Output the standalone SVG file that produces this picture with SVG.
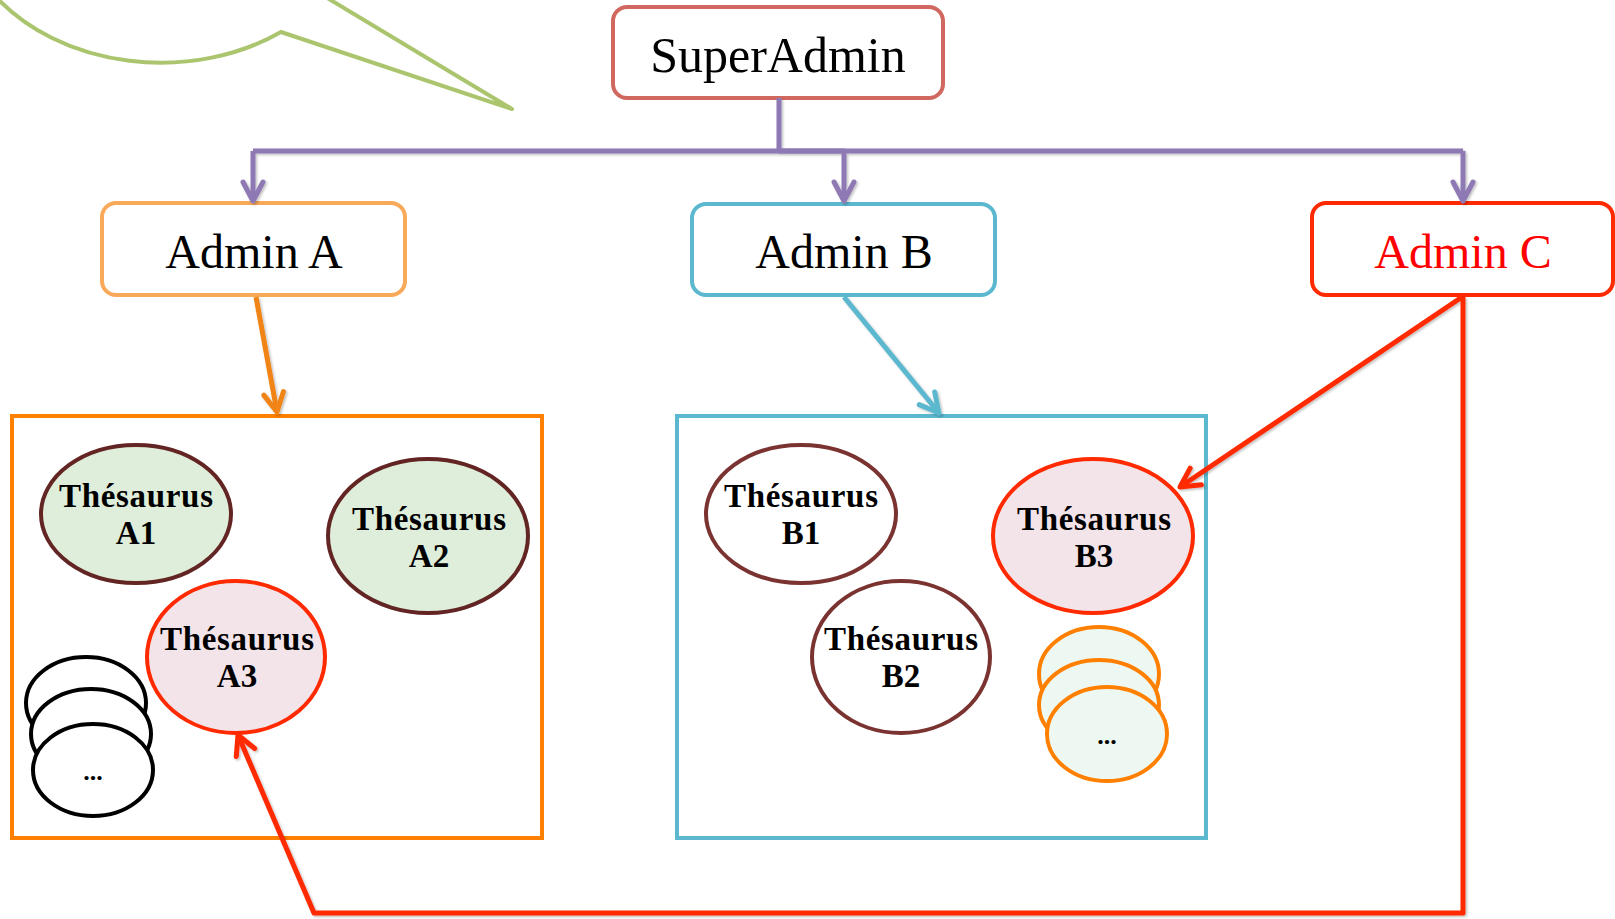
<svg xmlns="http://www.w3.org/2000/svg" width="1615" height="919" viewBox="0 0 1615 919">
<defs>
<style>
.box{fill:#ffffff;stroke-width:4}
.t{font-family:"Liberation Serif","Times New Roman",serif;font-size:48px;text-anchor:middle;fill:#000}
.th{font-family:"Liberation Serif","Times New Roman",serif;font-size:33px;font-weight:bold;text-anchor:middle;fill:#000}
.dots{font-family:"Liberation Serif","Times New Roman",serif;font-size:26px;font-weight:bold;text-anchor:middle;fill:#000}
.c{fill:none;stroke-width:5;stroke-linejoin:round}
.el{stroke-width:4}
.cont{fill:none;stroke-width:4}
</style>
<filter id="sh" x="-5%" y="-5%" width="110%" height="110%">
<feDropShadow dx="1.5" dy="1.5" stdDeviation="1" flood-color="#000" flood-opacity="0.25"/>
</filter>
<marker id="mP" viewBox="-24 -14 28 28" refX="0" refY="0" markerWidth="28" markerHeight="28" markerUnits="userSpaceOnUse" orient="auto"><path d="M -19 -10 L 0 0 L -19 10" fill="none" stroke="#8E79B5" stroke-width="5" stroke-linecap="round" stroke-linejoin="round"/></marker>
<marker id="mO" viewBox="-24 -14 28 28" refX="0" refY="0" markerWidth="28" markerHeight="28" markerUnits="userSpaceOnUse" orient="auto"><path d="M -19 -10 L 0 0 L -19 10" fill="none" stroke="#F08413" stroke-width="5" stroke-linecap="round" stroke-linejoin="round"/></marker>
<marker id="mB" viewBox="-24 -14 28 28" refX="0" refY="0" markerWidth="28" markerHeight="28" markerUnits="userSpaceOnUse" orient="auto"><path d="M -19 -10 L 0 0 L -19 10" fill="none" stroke="#5BB8CF" stroke-width="5" stroke-linecap="round" stroke-linejoin="round"/></marker>
<marker id="mR" viewBox="-24 -14 28 28" refX="0" refY="0" markerWidth="28" markerHeight="28" markerUnits="userSpaceOnUse" orient="auto"><path d="M -19 -10 L 0 0 L -19 10" fill="none" stroke="#FF2A00" stroke-width="5" stroke-linecap="round" stroke-linejoin="round"/></marker>
</defs>
<rect x="0" y="0" width="1615" height="919" fill="#ffffff"/>

<g id="callout">
<path d="M -4 -3 A 205 162 0 0 0 281 32 L 512 109 L 324 -4" fill="none" stroke="#ABC56E" stroke-width="4" stroke-linejoin="round"/>
</g>

<g id="superadmin">
<rect class="box" x="613" y="7" width="330" height="91" rx="14" stroke="#D0685F"/>
<text class="t" x="778" y="72" style="font-size:50px">SuperAdmin</text>
</g>
<g id="adminA">
<rect class="box" x="102" y="203" width="303" height="92" rx="14" stroke="#F9A95A"/>
<text class="t" x="254" y="268">Admin A</text>
</g>
<g id="adminB">
<rect class="box" x="692" y="204" width="303" height="91" rx="14" stroke="#5BB8CF"/>
<text class="t" x="844" y="268">Admin B</text>
</g>
<g id="adminC">
<rect class="box" x="1312" y="203" width="301" height="92" rx="14" stroke="#FF2A00"/>
<text class="t" x="1463" y="268" style="fill:#FF0000">Admin C</text>
</g>

<g id="containerA">
<rect class="cont" x="12" y="416" width="530" height="422" stroke="#FF8000"/>
</g>
<g id="containerB">
<rect class="cont" x="677" y="416" width="529" height="422" stroke="#5BB8CF"/>
</g>

<g id="thesA1">
<ellipse class="el" cx="136" cy="514" rx="95" ry="69" fill="#DEEEDA" stroke="#632523"/>
<text class="th" x="136" y="507" textLength="154">Thésaurus</text>
<text class="th" x="136" y="544">A1</text>
</g>
<g id="thesA2">
<ellipse class="el" cx="428" cy="536" rx="100" ry="77" fill="#DEEEDA" stroke="#632523"/>
<text class="th" x="429" y="530" textLength="154">Thésaurus</text>
<text class="th" x="429" y="567">A2</text>
</g>
<g id="thesA3">
<ellipse class="el" cx="236" cy="657" rx="89" ry="76" fill="#F2E4E9" stroke="#FF2A00"/>
<text class="th" x="237" y="650" textLength="154">Thésaurus</text>
<text class="th" x="237" y="687">A3</text>
</g>
<g id="moreA">
<ellipse class="el" cx="86" cy="703" rx="60" ry="46" fill="#ffffff" stroke="#000"/>
<ellipse class="el" cx="91" cy="734" rx="60" ry="45" fill="#ffffff" stroke="#000"/>
<ellipse class="el" cx="93" cy="770" rx="60" ry="46" fill="#ffffff" stroke="#000"/>
<text class="dots" x="93" y="780">...</text>
</g>

<g id="thesB1">
<ellipse class="el" cx="801" cy="514" rx="95" ry="69" fill="#ffffff" stroke="#7A3330"/>
<text class="th" x="801" y="507" textLength="154">Thésaurus</text>
<text class="th" x="801" y="544">B1</text>
</g>
<g id="thesB2">
<ellipse class="el" cx="901" cy="657" rx="89" ry="76" fill="#ffffff" stroke="#7A3330"/>
<text class="th" x="901" y="650" textLength="154">Thésaurus</text>
<text class="th" x="901" y="687">B2</text>
</g>
<g id="thesB3">
<ellipse class="el" cx="1093" cy="536" rx="100" ry="77" fill="#F2E4E9" stroke="#FF2A00"/>
<text class="th" x="1094" y="530" textLength="154">Thésaurus</text>
<text class="th" x="1094" y="567">B3</text>
</g>
<g id="moreB">
<ellipse class="el" cx="1099" cy="674" rx="60" ry="47" fill="#EEF8F2" stroke="#FF8000"/>
<ellipse class="el" cx="1099" cy="705" rx="60" ry="45" fill="#EEF8F2" stroke="#FF8000"/>
<ellipse class="el" cx="1107" cy="734" rx="60" ry="47" fill="#EEF8F2" stroke="#FF8000"/>
<text class="dots" x="1107" y="744">...</text>
</g>

<g id="connectors" filter="url(#sh)">
<path class="c" d="M 253 151 H 1463" stroke="#8E79B5"/>
<path class="c" d="M 779 98 V 151 H 844 V 201" stroke="#8E79B5" marker-end="url(#mP)"/>
<path class="c" d="M 253 151 V 201" stroke="#8E79B5" marker-end="url(#mP)"/>
<path class="c" d="M 1463 151 V 201" stroke="#8E79B5" marker-end="url(#mP)"/>
<path class="c" d="M 256 297 L 277 412" stroke="#F08413" marker-end="url(#mO)"/>
<path class="c" d="M 844 297 L 939 413" stroke="#5BB8CF" marker-end="url(#mB)"/>
<path class="c" d="M 1462 297 L 1180 487" stroke="#FF2A00" marker-end="url(#mR)"/>
<path class="c" d="M 1463 297 V 913 H 314 L 238 735" stroke="#FF2A00" marker-end="url(#mR)"/>
</g>
</svg>
